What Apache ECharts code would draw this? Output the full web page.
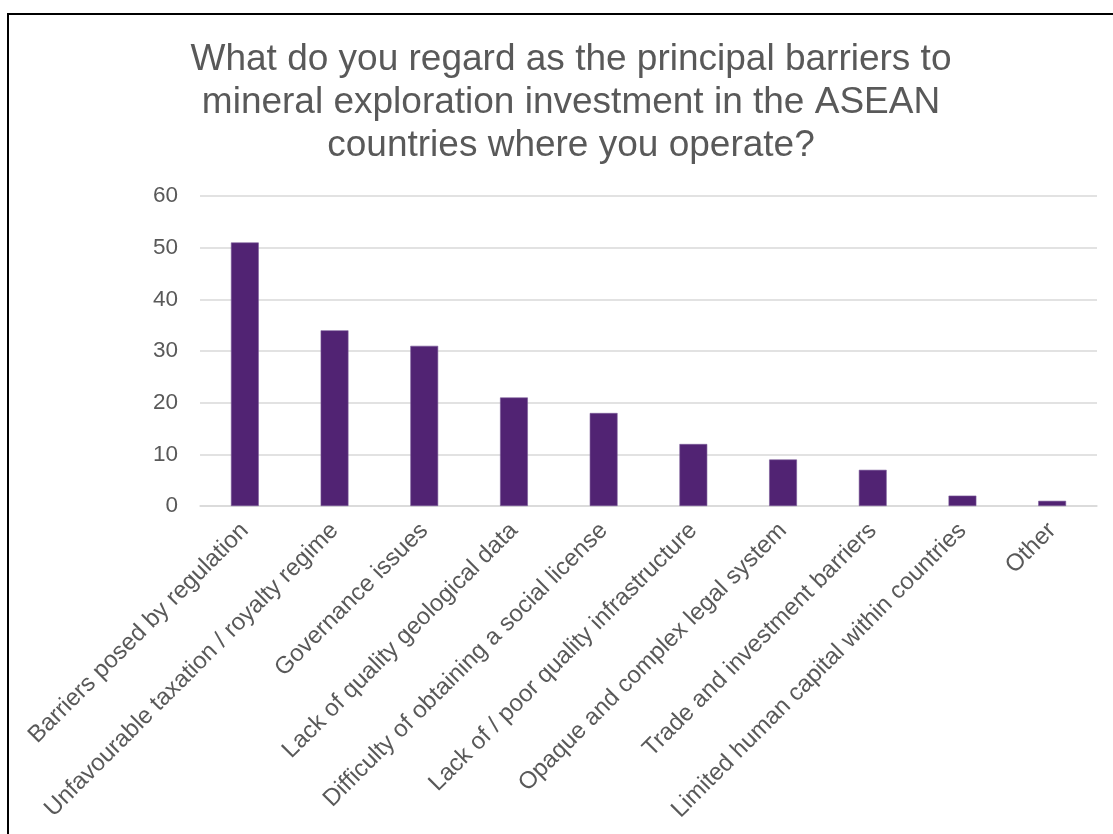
<!DOCTYPE html>
<html>
<head>
<meta charset="utf-8">
<script src="https://cdn.jsdelivr.net/npm/echarts@6/dist/echarts.min.js"></script>
<style>
  html, body { margin: 0; padding: 0; background: #fff; overflow: hidden; }
  #chart { width: 1113px; height: 834px; position: absolute; left: 0; top: 0; }
  #frame { position: absolute; left: 7px; top: 13px; width: 1200px; height: 900px;
           border-left: 2px solid #000; border-top: 2px solid #000; pointer-events: none; }
</style>
</head>
<body>
<div id="chart"></div>
<div id="frame"></div>
<script>
const titleText = "What do you regard as the principal barriers to\nmineral exploration investment in the ASEAN\ncountries where you operate?";
const categories = [
  "Barriers posed by regulation",
  "Unfavourable taxation / royalty regime",
  "Governance issues",
  "Lack of quality geological data",
  "Difficulty of obtaining a social license",
  "Lack of / poor quality infrastructure",
  "Opaque and complex legal system",
  "Trade and investment barriers",
  "Limited human capital within countries",
  "Other"
];
const values = [51, 34, 31, 21, 18, 12, 9, 7, 2, 1];
const yMin = 0, yMax = 60, yInterval = 10;

const chart = echarts.init(document.getElementById('chart'), null, { renderer: 'canvas' });
chart.setOption({
  animation: false,
  backgroundColor: '#ffffff',
  textStyle: { fontFamily: '"Liberation Sans", Arial, sans-serif' },
  title: {
    text: titleText,
    left: 566,
    top: 33,
    textAlign: 'center',
    textStyle: {
      fontFamily: '"Liberation Sans", Arial, sans-serif',
      fontSize: 37,
      fontWeight: 'normal',
      color: '#595959',
      lineHeight: 43,
      align: 'center'
    }
  },
  grid: { left: 200, right: 16, top: 196, bottom: 328, containLabel: false },
  xAxis: {
    type: 'category',
    data: categories,
    axisLine: { show: true, lineStyle: { color: '#d9d9d9', width: 1.5 } },
    axisTick: { show: false },
    axisLabel: {
      interval: 0,
      rotate: 45,
      margin: 21,
      fontSize: 24,
      color: '#595959',
      fontFamily: '"Liberation Sans", Arial, sans-serif'
    }
  },
  yAxis: {
    type: 'value',
    min: yMin,
    max: yMax,
    interval: yInterval,
    axisLine: { show: false },
    axisTick: { show: false },
    splitLine: { lineStyle: { color: '#d9d9d9', width: 1.5 } },
    axisLabel: {
      fontSize: 22.5,
      color: '#595959',
      margin: 22,
      fontFamily: '"Liberation Sans", Arial, sans-serif'
    }
  },
  series: [{
    type: 'bar',
    data: values,
    barWidth: '31%',
    itemStyle: { color: '#512373', borderColor: '#7a5a98', borderWidth: 0.6 }
  }]
});
</script>
</body>
</html>
